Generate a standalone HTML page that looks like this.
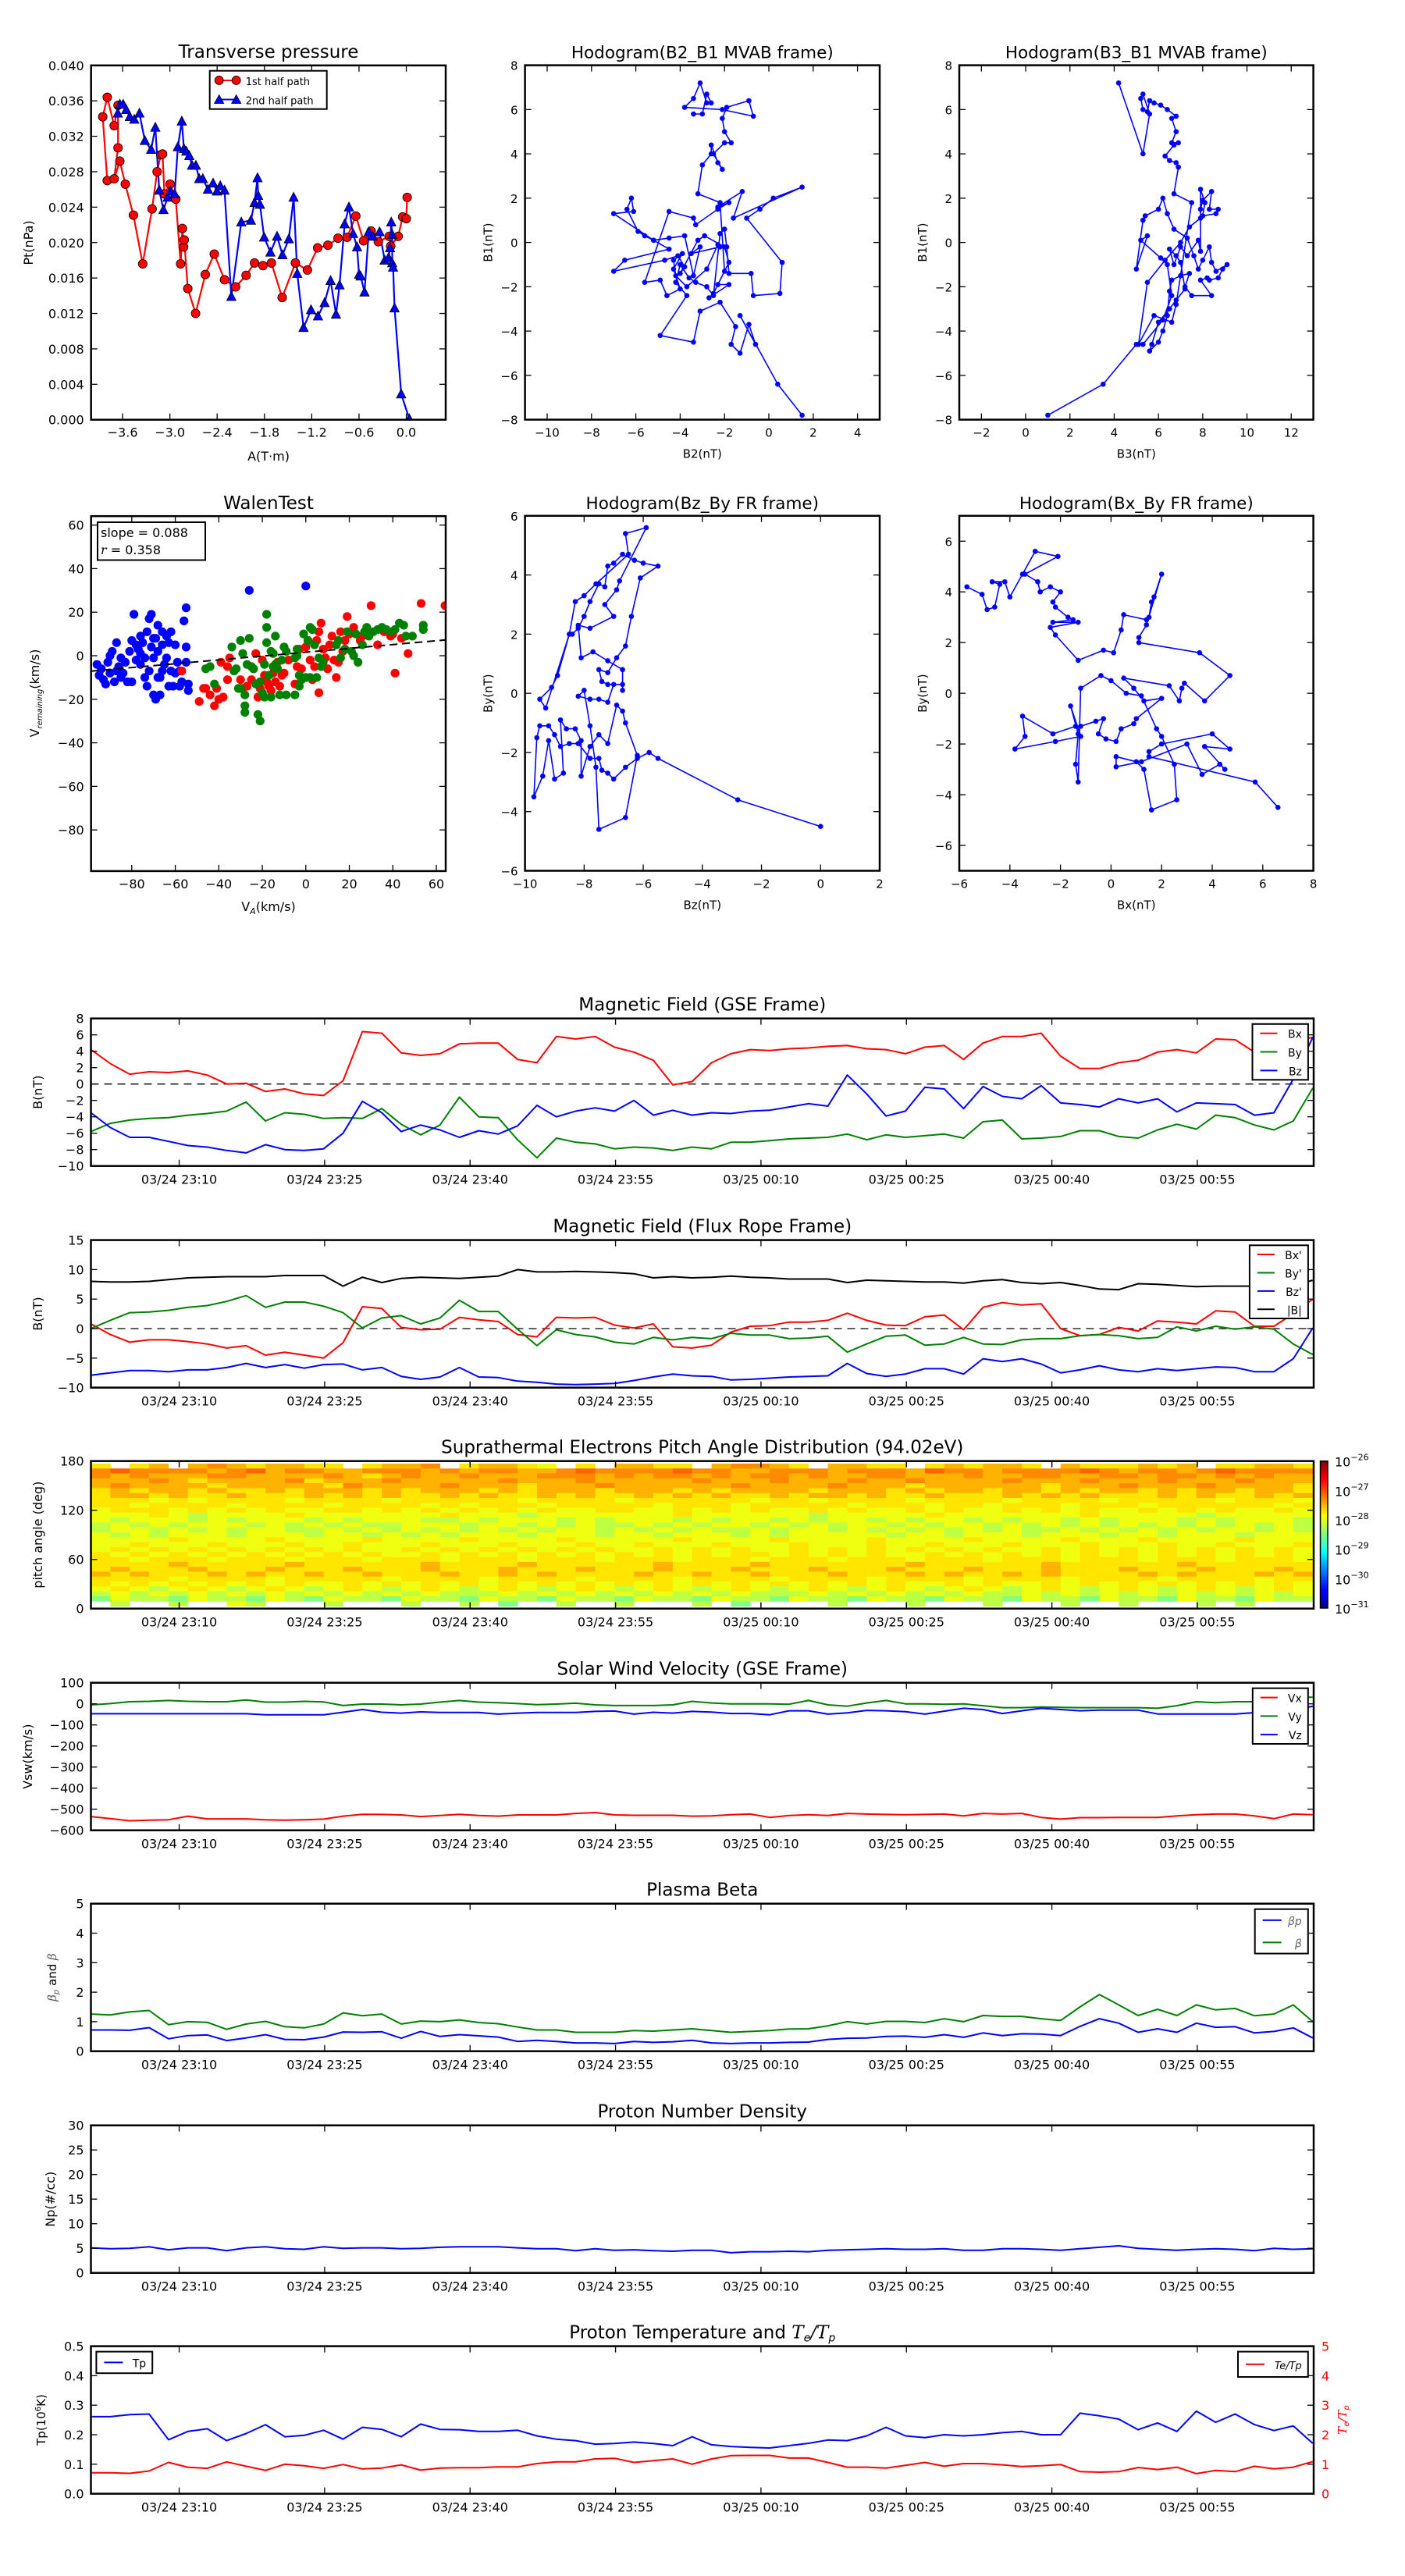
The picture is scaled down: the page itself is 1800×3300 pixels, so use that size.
<!DOCTYPE html>
<html><head><meta charset="utf-8"><title>Flux rope analysis</title>
<style>
html,body{margin:0;padding:0;background:#fff;}
svg{display:block;font-family:"DejaVu Sans","Liberation Sans",sans-serif;}
</style></head>
<body>
<svg id="chart" xmlns="http://www.w3.org/2000/svg" width="1800" height="3300" viewBox="0 0 1800 3300">
<rect x="0" y="0" width="1800" height="3300" fill="#fff"/>
<defs>
<linearGradient id="jetGrad" x1="0" y1="1" x2="0" y2="0">
<stop offset="0" stop-color="#00007f"/><stop offset="0.11" stop-color="#0000ff"/><stop offset="0.125" stop-color="#0000ff"/>
<stop offset="0.34" stop-color="#00d4ff"/><stop offset="0.375" stop-color="#0ff"/><stop offset="0.5" stop-color="#7fff7f"/>
<stop offset="0.625" stop-color="#ff0"/><stop offset="0.66" stop-color="#ffdd00"/><stop offset="0.875" stop-color="#ff0000"/><stop offset="1" stop-color="#7f0000"/>
</linearGradient>
</defs>
</svg>
<script>
// ---------------- DATA ----------------
const tpA1 = [-3.795,-3.852,-3.795,-3.707,-3.658,-3.658,-3.707,-3.635,-3.566,-3.463,-3.345,-3.226,-3.162,-3.116,-3.093,-3.070,-2.998,-2.925,-2.864,-2.841,-2.826,-2.818,-2.773,-2.674,-2.551,-2.437,-2.307,-2.166,-2.033,-1.926,-1.819,-1.712,-1.575,-1.407,-1.255,-1.125,-0.995,-0.866,-0.751,-0.641,-0.542,-0.446,-0.355,-0.217,-0.198,-0.103,-0.046,0.0,0.011];
const tpP1 = [0.0270,0.0342,0.0364,0.0332,0.0355,0.0307,0.0272,0.0292,0.0266,0.0231,0.0176,0.0238,0.0280,0.0299,0.0300,0.0255,0.0266,0.0249,0.0176,0.0216,0.0195,0.0203,0.0148,0.0120,0.0164,0.0187,0.0158,0.0150,0.0163,0.0177,0.0174,0.0177,0.0138,0.0177,0.0169,0.0194,0.0197,0.0205,0.0206,0.0230,0.0202,0.0213,0.0201,0.0207,0.0196,0.0207,0.0229,0.0227,0.0251];
const tpA2 = [-3.661,-3.635,-3.593,-3.554,-3.509,-3.452,-3.387,-3.318,-3.238,-3.185,-3.135,-3.082,-3.028,-2.994,-2.940,-2.899,-2.849,-2.822,-2.792,-2.754,-2.719,-2.670,-2.628,-2.582,-2.517,-2.452,-2.403,-2.361,-2.307,-2.220,-2.094,-1.972,-1.926,-1.888,-1.880,-1.857,-1.804,-1.724,-1.640,-1.571,-1.491,-1.430,-1.384,-1.304,-1.209,-1.121,-1.037,-0.961,-0.892,-0.847,-0.782,-0.728,-0.675,-0.625,-0.599,-0.580,-0.530,-0.477,-0.427,-0.339,-0.275,-0.225,-0.206,-0.191,-0.179,-0.179,-0.168,-0.149,-0.065,0.038];
const tpP2 = [0.0346,0.0356,0.0356,0.0350,0.0342,0.0339,0.0346,0.0315,0.0305,0.0330,0.0259,0.0237,0.0251,0.0258,0.0255,0.0308,0.0337,0.0306,0.0303,0.0298,0.0287,0.0287,0.0272,0.0272,0.0260,0.0267,0.0258,0.0264,0.0259,0.0139,0.0223,0.0225,0.0245,0.0273,0.0253,0.0243,0.0206,0.0189,0.0207,0.0186,0.0204,0.0251,0.0165,0.0104,0.0124,0.0117,0.0132,0.0157,0.0119,0.0152,0.0221,0.0240,0.0210,0.0195,0.0164,0.0162,0.0144,0.0212,0.0207,0.0212,0.0180,0.0183,0.0194,0.0223,0.0209,0.0177,0.0172,0.0126,0.0029,0.0001];
const tpXTicks = [-3.6,-3.0,-2.4,-1.8,-1.2,-0.6,0.0];
const tpYTicks = [0.000,0.004,0.008,0.012,0.016,0.020,0.024,0.028,0.032,0.036,0.040];

const h1B2 = [1.5,0.4,-1.3,-0.6,-0.9,-1.3,-1.7,-1.5,-2.2,-3.1,-3.4,-4.9,-3.7,-4.2,-4.0,-3.6,-3.3,-2.8,-2.5,-2.2,-2.0,-1.9,-1.8,-0.8,-0.7,0.5,0.6,-1.0,-0.4,0.2,1.5,-1.6,-1.2,-2.3,-1.8,-2.3,-3.3,-3.4,-4.5,-5.6,-4.9,-4.6,-4.0,-4.3,-3.9,-4.3,-4.2,-3.7,-2.8,-2.3,-2.2,-3.5,-3.1,-3.4,-3.8,-4.5,-5.2,-5.6,-5.9,-6.4,-6.2,-6.1,-7.0,-5.2,-4.5,-6.5,-7.0,-4.7,-4.1,-3.8,-4.0,-3.2,-2.9,-2.0,-1.8,-2.3,-1.8,-2.7,-2.5,-2.0,-2.2,-3.2,-3.0,-2.6,-2.6,-2.3,-2.1,-2.5,-2.0,-1.7,-2.0,-2.1,-1.9,-0.9,-0.7,-2.1,-3.8,-3.4,-3.1,-2.8,-2.6,-2.8,-3.0,-3.4];
const h1B1 = [-7.8,-6.4,-3.3,-4.6,-3.7,-5.0,-4.6,-3.8,-2.7,-3.1,-4.5,-4.2,-2.4,-1.8,-1.0,-1.6,-1.8,-2.0,-2.4,0.4,0.6,-0.2,-1.4,-1.4,-2.4,-2.3,-0.9,1.1,1.5,2.0,2.5,1.1,2.3,1.6,1.8,1.5,0.8,1.1,1.4,-1.8,-1.7,-2.4,-2.1,-1.2,-0.5,-0.8,-1.5,-2.0,-1.2,-0.1,-0.2,-0.5,-0.2,-1.5,0.3,0.2,0.1,0.3,0.5,1.5,2.0,1.4,1.3,0.1,-0.3,-0.8,-1.3,-0.8,-0.6,-1.1,-1.4,0.1,0.3,-0.2,-0.9,-1.9,-1.9,-2.5,-2.3,-1.3,1.8,2.2,3.5,4.0,4.4,3.6,3.3,4.0,4.5,4.5,5.0,5.6,6.1,6.4,5.7,6.0,6.1,6.5,7.2,6.3,6.3,6.7,5.8,5.8];
const h2B3 = [1.0,3.5,5.0,5.3,6.2,6.6,6.4,6.1,5.2,5.5,5.0,5.3,5.4,6.0,6.2,6.4,6.7,7.3,7.6,7.8,8.0,8.3,8.4,8.6,9.1,8.9,8.7,8.3,8.2,7.9,8.4,7.5,7.2,7.4,7.0,6.6,6.5,6.4,6.2,6.0,5.6,5.7,6.0,6.5,6.8,7.2,7.0,6.8,6.5,6.7,7.0,7.3,7.8,7.9,7.9,8.0,8.4,8.3,8.7,8.6,8.0,8.1,7.9,7.9,7.4,7.0,6.3,5.5,5.1,5.8,6.6,6.8,7.5,6.7,6.9,6.8,6.5,6.3,6.7,6.9,6.6,6.8,6.6,6.8,6.4,6.1,5.8,5.6,5.5,5.3,5.2,5.3,5.6,5.3,4.2];
const h2B1 = [-7.8,-6.4,-4.6,-4.6,-3.5,-2.4,-1.0,-0.7,0.1,0.3,-1.2,1.0,1.2,1.5,2.0,1.3,0.6,0.2,-0.6,-1.2,-0.8,-0.2,-0.9,-1.3,-1.0,-1.2,-1.6,-1.7,-1.6,-1.7,-2.4,-2.4,-2.0,-1.4,-1.5,-1.7,-2.2,-3.3,-4.0,-4.5,-4.9,-4.6,-3.6,-3.0,-2.6,-2.1,-0.9,-0.6,-0.3,-1.0,-0.2,-0.6,0.1,-0.4,1.5,1.9,2.3,1.5,1.5,1.3,1.2,1.8,2.4,1.1,0.7,0.0,-0.8,-1.8,-4.6,-3.3,-3.6,-2.8,1.8,2.2,3.4,3.6,3.7,3.9,4.4,4.5,4.5,5.0,5.6,5.7,6.0,6.2,6.3,6.4,5.9,6.0,6.5,6.7,5.8,4.0,7.2];
const h3Bz = [0.0,-2.8,-5.5,-5.8,-6.2,-6.6,-7.0,-7.2,-7.4,-7.5,-7.8,-8.2,-8.5,-8.8,-9.0,-9.2,-9.5,-9.6,-9.7,-9.4,-9.2,-9.0,-8.7,-8.8,-8.6,-8.3,-8.1,-8.1,-7.8,-7.5,-7.2,-6.9,-6.7,-6.6,-6.2,-6.6,-7.5,-7.6,-7.8,-8.0,-8.2,-7.8,-7.5,-7.2,-7.0,-6.7,-7.2,-7.4,-7.5,-7.2,-6.9,-6.6,-6.4,-6.1,-5.5,-6.0,-6.3,-6.7,-7.0,-7.2,-7.3,-7.5,-7.8,-8.0,-8.2,-8.4,-8.5,-8.9,-9.1,-9.5,-9.3,-8.5,-8.3,-8.0,-7.6,-6.5,-6.6,-5.9,-6.8,-6.9,-7.3,-7.0,-7.8,-8.2,-8.1,-7.7,-7.2,-6.7,-6.7];
const h3By = [-4.5,-3.6,-2.2,-2.0,-2.2,-2.5,-2.9,-2.7,-2.6,-2.2,-2.2,-1.7,-1.7,-1.8,-1.4,-1.1,-1.1,-1.5,-3.5,-2.8,-1.6,-2.9,-2.7,-0.9,-1.2,-1.2,-1.6,-2.8,-1.8,-1.4,-1.7,-0.4,-0.6,-1.0,-2.1,-4.2,-4.6,-2.5,-1.1,0.1,-0.1,-0.2,-0.2,-0.3,0.3,0.3,0.3,0.4,0.8,0.7,1.2,1.6,2.6,3.9,4.3,4.4,4.5,4.7,4.4,4.3,3.6,3.7,3.1,2.6,2.2,2.0,2.0,0.6,0.2,-0.2,-0.5,2.0,3.1,3.3,3.7,4.7,5.4,5.6,3.8,3.5,3.0,2.6,2.2,2.3,1.2,1.4,1.1,0.8,0.1];
const h4Bx = [-5.7,-5.1,-4.9,-4.6,-4.4,-4.7,-4.2,-4.0,-3.5,-3.0,-2.1,-3.4,-2.9,-2.8,-2.4,-2.0,-2.3,-2.2,-1.7,-1.5,-2.3,-1.3,-2.4,-2.2,-1.3,-0.3,0.1,0.4,0.5,1.4,1.5,1.6,1.7,2.0,1.4,1.1,1.1,3.5,4.7,3.7,2.9,2.8,2.7,2.3,0.5,0.9,1.3,2.0,1.0,0.9,0.4,0.2,-0.2,-0.5,-0.3,-0.6,-1.2,-1.4,-2.3,-3.5,-3.4,-3.8,-2.2,-1.2,-1.6,-1.3,-1.4,-1.3,-1.2,-0.4,0.0,0.6,1.2,1.8,2.0,2.5,2.6,1.6,1.3,1.0,0.2,0.2,1.2,3.0,3.6,4.3,4.5,3.7,4.7,4.0,2.0,1.5,1.5,5.7,6.6];
const h4By = [4.2,3.9,3.3,3.4,4.3,4.4,4.4,3.8,4.7,5.6,5.4,4.7,4.4,4.0,4.2,4.0,3.6,3.4,3.0,2.9,2.8,2.8,2.6,2.3,1.3,1.7,1.6,2.5,3.1,2.9,3.0,3.6,3.8,4.7,2.7,2.2,2.0,1.6,0.7,-0.3,0.4,0.2,-0.3,0.3,0.6,0.2,-0.3,-0.2,-1.0,-1.2,-1.4,-1.9,-1.8,-1.6,-1.0,-1.1,-1.3,-1.3,-1.6,-0.9,-1.7,-2.2,-1.9,-1.7,-0.5,-1.6,-2.8,-3.5,0.2,0.7,0.5,0.0,-0.1,-1.4,-1.7,-2.8,-4.2,-4.6,-3.0,-2.7,-2.5,-2.9,-2.7,-2.0,-3.2,-2.8,-3.0,-2.1,-2.2,-1.6,-2.0,-2.3,-2.5,-3.5,-4.5];

const walBlueX = [-96,-95,-94,-93,-92,-91,-90,-89,-88,-87,-86,-85,-84,-83,-82,-81,-80,-80,-79,-78,-78,-77,-76,-76,-75,-74,-74,-73,-73,-72,-72,-71,-71,-70,-70,-69,-69,-68,-68,-67,-67,-66,-66,-65,-64,-64,-63,-62,-62,-61,-60,-60,-59,-58,-57,-56,-55,-55,-55,-54,-54,-87,-90,-85,-76,-70,-66,-68,-63,-58,-26,0];
const walBlueY = [-4,-9,-6,-11,-13,-3,-8,2,-12,-7,-5,-10,-8,-3,-12,2,-12,7,19,5,-2,3,9,-4,6,-1,-10,11,-14,17,-7,4,19,-1,-18,8,-20,14,2,-10,-18,11,5,-4,9,-1,6,-7,11,-14,5,-8,-3,-14,-12,16,22,4,-3,-13,-16,6,0,-1,1,8,-7,-10,-14,-7,30,32];
const walRedX = [-57,-49,-47,-46,-44,-42,-41,-40,-39,-38,-36,-35,-36,-30,-29,-25,-22,-21,-20,-19,-18,-17,-16,-15,-14,-13,-12,-11,-10,-8,-5,-4,-3,-2,0,1,2,3,4,5,6,6,7,8,9,10,11,12,13,14,15,16,18,19,20,22,25,28,30,33,36,39,41,44,47,53,64,40,26,-27,-23,17];
const walRedY = [-7,-21,-15,-15,-18,-23,-15,-20,-3,-19,-5,-1,-11,-11,-15,-11,-19,-15,-2,-9,-12,-14,-16,-8,-12,-3,-14,-9,-8,-2,-13,-5,3,-6,4,7,-2,-11,-5,7,-17,11,15,3,-1,-6,5,9,-2,-10,-3,11,7,18,10,13,7,12,23,5,11,9,-8,8,1,24,23,10,9,-14,1,2];
const walGreenX = [-46,-44,-42,-34,-33,-32,-31,-30,-30,-29,-28,-28,-28,-27,-26,-25,-24,-23,-22,-21,-21,-20,-19,-19,-18,-18,-18,-17,-16,-16,-15,-14,-14,-13,-12,-11,-10,-9,-5,-4,-4,-3,-3,-2,-1,0,1,2,2,3,4,5,6,7,8,14,15,16,18,19,21,22,23,24,26,27,28,29,31,33,35,37,39,41,43,45,46,49,54,54,-9,-5,-15];
const walGreenY = [-6,-5,-13,4,-7,-6,-15,-15,7,1,-18,-23,-26,-4,8,-5,-6,-13,-27,-30,-12,-17,-4,-19,6,19,13,-9,-19,2,-5,-4,9,-6,-18,-2,4,-18,-18,3,0,-9,-14,-11,10,-10,7,13,-10,12,5,-10,-1,-5,-3,5,7,-1,3,11,2,0,10,-3,5,11,13,9,11,12,13,12,11,12,15,14,9,9,14,12,2,-1,1];
const walenSlope = 0.088;
const walenIntercept = 1.6;
const walTicks = [-80,-60,-40,-20,0,20,40,60];

const T = [0,2,4,6,8,10,12,14,16,18,20,22,24,26,28,30,32,34,36,38,40,42,44,46,48,50,52,54,56,58,60,62,64,66,68,70,72,74,76,78,80,82,84,86,88,90,92,94,96,98,100,102,104,106,108,110,112,114,116,118,120,122,124,126];
const timeTickT = [9.1,24.1,39.1,54.1,69.1,84.1,99.1,114.1];
const timeTickLabels = ["03/24 23:10","03/24 23:25","03/24 23:40","03/24 23:55","03/25 00:10","03/25 00:25","03/25 00:40","03/25 00:55"];

const bxGse = [4.2,2.5,1.2,1.5,1.4,1.6,1.1,0.0,0.1,-0.9,-0.6,-1.2,-1.4,0.4,6.4,6.2,3.8,3.5,3.7,4.9,5.0,5.0,3.0,2.6,5.8,5.5,5.8,4.5,3.9,2.9,-0.1,0.3,2.6,3.7,4.2,4.1,4.3,4.4,4.6,4.7,4.3,4.2,3.7,4.5,4.7,3.0,5.0,5.8,5.8,6.2,3.4,1.9,1.9,2.6,2.9,3.9,4.2,3.8,5.5,5.4,3.9,5.0,5.2,5.7];
const byGse = [-5.8,-4.8,-4.4,-4.2,-4.1,-3.8,-3.6,-3.3,-2.2,-4.5,-3.5,-3.7,-4.2,-4.1,-4.2,-3.0,-4.9,-6.2,-5.0,-1.6,-4.0,-4.1,-6.8,-9.0,-6.6,-7.1,-7.3,-7.9,-7.7,-7.8,-8.1,-7.7,-7.9,-7.1,-7.1,-6.9,-6.7,-6.6,-6.5,-6.1,-6.8,-6.2,-6.5,-6.3,-6.1,-6.6,-4.6,-4.4,-6.7,-6.6,-6.4,-5.7,-5.7,-6.4,-6.6,-5.6,-4.9,-5.5,-3.8,-4.1,-5.0,-5.6,-4.5,-0.5];
const bzGse = [-3.5,-5.3,-6.5,-6.5,-7.0,-7.5,-7.7,-8.1,-8.4,-7.4,-8.0,-8.1,-7.9,-6.0,-2.1,-3.5,-5.8,-5.0,-5.6,-6.5,-5.7,-6.1,-5.1,-2.6,-4.0,-3.3,-2.9,-3.3,-2.0,-3.8,-3.2,-3.8,-3.5,-3.6,-3.3,-3.2,-2.8,-2.4,-2.7,1.1,-1.2,-3.9,-3.3,-0.4,-0.6,-3.0,-0.3,-1.5,-1.8,-0.2,-2.3,-2.5,-2.8,-1.8,-2.3,-1.8,-3.4,-2.3,-2.4,-2.5,-3.8,-3.5,0.6,5.7];
const bxFr = [0.8,-1.0,-2.3,-1.9,-1.9,-2.2,-2.6,-3.3,-2.9,-4.5,-4.0,-4.5,-5.0,-2.4,3.7,3.4,0.2,-0.2,-0.1,1.9,1.5,1.2,-1.0,-1.4,1.9,1.8,1.9,0.6,0.1,0.8,-3.1,-3.3,-2.8,-0.6,0.4,0.5,1.1,1.1,1.4,2.6,1.4,0.6,0.5,2.0,2.3,-0.2,3.6,4.4,4.0,4.2,0.0,-1.2,-1.0,0.2,-0.4,1.3,1.1,0.8,3.0,2.8,0.4,0.4,2.5,5.0];
const byFr = [0,1.4,2.7,2.8,3.1,3.6,3.9,4.6,5.6,3.6,4.5,4.5,3.8,2.7,0.1,1.8,2.2,0.8,1.8,4.8,2.9,2.9,-0.1,-2.9,-0.2,-1.0,-1.4,-2.3,-2.6,-1.5,-1.9,-1.5,-1.7,-0.8,-1.1,-1.1,-1.7,-1.6,-1.3,-4.0,-2.6,-1.3,-1.1,-2.8,-2.6,-1.5,-2.6,-2.7,-1.9,-1.7,-1.7,-1.2,-1.0,-1.2,-1.7,-1.5,0.3,-0.4,0.4,-0.1,0.3,-0.1,-2.6,-4.4];
const bzFr = [-7.9,-7.5,-7.1,-7.1,-7.3,-7.0,-7.0,-6.6,-5.9,-6.6,-6.1,-6.7,-6.1,-6.0,-7.0,-6.6,-8.1,-8.6,-8.2,-6.6,-8.2,-8.3,-8.9,-9.1,-9.4,-9.5,-9.4,-9.3,-8.8,-8.2,-7.7,-8.0,-8.1,-8.7,-8.6,-8.4,-8.2,-8.1,-8.0,-5.9,-7.6,-8.1,-7.7,-6.8,-6.8,-7.7,-5.1,-5.6,-5.1,-6.0,-7.5,-7.0,-6.3,-7.0,-7.3,-6.8,-7.1,-6.8,-6.5,-6.6,-7.3,-7.3,-5.1,0.1];
const bMag = [8.0,7.9,7.9,8.0,8.3,8.6,8.7,8.8,8.8,8.8,9.0,9.0,9.0,7.2,8.7,7.8,8.5,8.7,8.6,8.5,8.7,8.9,10.0,9.6,9.6,9.7,9.6,9.5,9.3,8.6,8.8,8.6,8.7,8.9,8.7,8.6,8.4,8.4,8.4,7.8,8.2,8.1,8.0,7.9,7.9,7.7,8.1,8.3,7.8,7.6,7.8,7.3,6.7,6.6,7.6,7.5,7.3,7.1,7.2,7.2,7.2,7.2,7.2,8.2];
const vx = [-535,-545,-555,-552,-550,-533,-546,-546,-546,-550,-552,-550,-547,-533,-524,-525,-527,-535,-530,-524,-530,-533,-527,-527,-527,-520,-516,-527,-529,-529,-529,-533,-532,-526,-523,-539,-530,-526,-530,-520,-523,-525,-526,-525,-523,-532,-520,-523,-520,-539,-547,-540,-540,-539,-539,-539,-532,-526,-523,-523,-532,-545,-523,-526];
const vy = [-5,1,10,12,16,12,10,10,18,8,8,12,9,-8,-1,-1,-5,-1,8,16,8,5,1,-4,-1,3,-5,-8,-8,-8,-5,12,4,0,0,0,-2,16,-5,-11,4,16,0,0,-2,0,-9,-18,-18,-15,-17,-18,-18,-18,-18,-21,-9,10,5,10,10,4,31,31];
const vz = [-47,-47,-47,-47,-47,-47,-47,-47,-47,-52,-52,-52,-52,-40,-27,-40,-44,-38,-41,-41,-41,-49,-44,-41,-41,-41,-36,-34,-49,-40,-44,-36,-39,-46,-46,-52,-33,-33,-49,-43,-31,-33,-37,-49,-35,-21,-27,-46,-33,-21,-27,-33,-30,-30,-30,-48,-48,-48,-48,-48,-42,-37,-27,-12];
const betaTot = [1.26,1.23,1.33,1.38,0.90,1.00,0.98,0.74,0.92,1.01,0.83,0.79,0.92,1.30,1.20,1.26,0.92,1.02,1.00,1.06,0.97,0.93,0.82,0.72,0.72,0.64,0.64,0.64,0.70,0.68,0.72,0.76,0.70,0.64,0.67,0.70,0.75,0.76,0.86,1.00,0.92,1.01,1.01,0.97,1.10,1.00,1.21,1.18,1.18,1.10,1.04,1.50,1.92,1.57,1.21,1.42,1.21,1.57,1.40,1.45,1.20,1.26,1.57,1.00];
const betaP = [0.72,0.72,0.71,0.80,0.42,0.53,0.55,0.36,0.45,0.56,0.40,0.39,0.48,0.65,0.64,0.66,0.44,0.67,0.50,0.56,0.52,0.48,0.33,0.37,0.33,0.28,0.28,0.26,0.33,0.30,0.32,0.37,0.28,0.26,0.28,0.28,0.30,0.31,0.40,0.44,0.45,0.50,0.51,0.47,0.56,0.47,0.62,0.53,0.59,0.58,0.53,0.84,1.10,0.95,0.64,0.76,0.64,0.95,0.81,0.83,0.62,0.67,0.79,0.45];
const np = [5.1,4.9,5.0,5.3,4.7,5.1,5.1,4.5,5.1,5.3,4.9,4.8,5.3,5.0,5.1,5.1,4.9,5.0,5.2,5.3,5.3,5.3,5.1,4.9,4.9,4.5,4.9,4.6,4.7,4.5,4.4,4.6,4.6,4.1,4.3,4.3,4.4,4.3,4.6,4.7,4.8,4.9,4.8,4.8,4.9,4.6,4.6,4.9,4.9,4.8,4.6,4.9,5.2,5.5,5.0,4.8,4.6,4.8,4.9,4.8,4.5,5.0,4.8,4.9];
const tp = [0.261,0.261,0.268,0.27,0.183,0.211,0.22,0.18,0.204,0.234,0.193,0.198,0.215,0.185,0.225,0.218,0.193,0.236,0.218,0.217,0.211,0.211,0.215,0.196,0.185,0.18,0.168,0.17,0.175,0.17,0.163,0.193,0.166,0.16,0.157,0.155,0.163,0.171,0.182,0.18,0.196,0.225,0.196,0.19,0.2,0.196,0.2,0.207,0.211,0.2,0.2,0.273,0.264,0.253,0.217,0.24,0.211,0.28,0.242,0.27,0.234,0.214,0.23,0.171];
const teTp = [0.71,0.71,0.69,0.77,1.06,0.90,0.86,1.08,0.93,0.79,1.00,0.95,0.86,0.99,0.84,0.87,0.98,0.80,0.87,0.88,0.88,0.91,0.91,1.02,1.08,1.08,1.18,1.20,1.06,1.12,1.18,1.00,1.18,1.29,1.30,1.30,1.21,1.21,1.06,0.90,0.90,0.87,0.96,1.06,0.93,1.02,1.02,0.98,0.92,0.95,0.99,0.75,0.73,0.75,0.89,0.82,0.90,0.68,0.79,0.75,0.93,0.84,0.90,1.09];

// pitch-angle distribution: rows top (174 deg) to bottom (6 deg); 63 two-minute columns; '.' = no data
const pitchCenters = [174,168,162,156,150,144,138,132,126,120,114,108,102,96,90,84,78,72,66,60,54,48,42,36,30,24,18,12,6];
const padLevels = [-28.5,-28.2,-27.95,-27.75,-27.5,-27.3,-27.1];
const padRows = [
"3.34.4543 4433.3445 .34432.3. 4433.4554 3.4433.34 3443.4333 434.33443",
"565555456 455445554 545544565 555655445 554555465 545555654 554565555",
"545444554 444543454 454445554 545545455 454455444 544554455 455454544",
"444543444 453444544 444544454 444454445 444544544 445444544 454445444",
"454444344 444354444 544434445 444444544 445444344 444434445 444544443",
"343443433 434443434 443434443 444343444 434443434 434434344 343443443",
"344343343 334343433 434334343 343434334 344343343 334343433 343433434",
"333232333 323333233 333323333 233333323 323333233 332333323 333323332",
"332333323 333233332 323332333 332333233 333233323 323332333 233333323",
"233323232 322332323 232323223 322323232 232322323 223232322 323232232",
"222321222 232222222 322212222 222322222 212222232 222222322 222122222",
"212221212 221212221 121222121 222121221 212212122 121221212 221212221",
"121212221 212121122 212212121 121212212 121221212 212121212 121212121",
"122121212 211212121 212121221 212121121 221212121 212112121 212122121",
"212122212 221221212 122212221 221222121 222221221 222122212 212221222",
"222232222 322223222 232222322 222322223 222232222 322223222 322223222",
"223222322 232232223 222322232 232223222 322232232 223222322 232232223",
"232323232 323232232 323232323 223232322 323232323 232232323 232323232",
"323232323 232323223 232323232 323232332 323232232 323232323 232323232",
"332333233 323332333 233323332 333233323 332333233 323332333 233323332",
"333343333 343333334 333343333 334333343 333333433 333343333 334333333",
"343334333 433343334 333433343 334333433 343334333 433343334 333433343",
"434333434 334334333 433434333 343343343 334333434 334343333 434333434",
"333323333 233333233 332333323 333233332 333323333 233332333 323333233",
"323232323 232232323 232323232 323232323 232323223 232232323 232323232",
"232123212 321232123 212321232 123212321 232123212 321232123 212321232",
"121212121 212121212 111212121 212121211 121212121 211212121 212121212",
"021102110 210211021 102110211 021102110 211021102 110211021 102110211",
".1..1..21 ...1...1. .1.0..1.. 1...1.0.. ..1...1.. .1...1..1 ...1.1..."
];

// ---------------- HELPERS ----------------
const NS = 'http://www.w3.org/2000/svg';
const svg = document.getElementById('chart');
function mk(tag, attrs, parent) {
  const e = document.createElementNS(NS, tag);
  for (const k in attrs) e.setAttribute(k, attrs[k]);
  (parent || svg).appendChild(e);
  return e;
}
function lin(d0, d1, r0, r1) { return v => r0 + (v - d0) * (r1 - r0) / (d1 - d0); }
function fmtNum(v, dec) { const s = Math.abs(v).toFixed(dec); return (v < 0 ? '\u2212' : '') + s; }
let clipCount = 0;
function makeAxes(name, x0, y0, x1, y1, xmin, xmax, ymin, ymax) {
  const g = mk('g', {});
  
  
  clipCount++;
  const cp = mk('clipPath', { id: 'clip' + clipCount }, g);
  mk('rect', { x: x0, y: y0, width: x1 - x0, height: y1 - y0 }, cp);
  const plot = mk('g', { 'clip-path': 'url(#clip' + clipCount + ')' }, g);
  
  
  return { g, plot, x0, y0, x1, y1, sx: lin(xmin, xmax, x0, x1), sy: lin(ymin, ymax, y1, y0) };
}
function frame(ax) {
  const r = mk('rect', { x: ax.x0, y: ax.y0, width: ax.x1 - ax.x0, height: ax.y1 - ax.y0, fill: 'none', stroke: '#000', 'stroke-width': 2.5 }, ax.g);
  
  
}
function text(parent, str, x, y, size, anchor, extra) {
  const t = mk('text', Object.assign({ x: x, y: y, 'font-size': size, 'text-anchor': anchor || 'middle', fill: '#000' }, extra || {}), parent);
  t.textContent = str;
  return t;
}
function xTicks(ax, vals, labels, size, offset) {
  const g = mk('g', {}, ax.g);
  
  
  vals.forEach((v, i) => {
    const x = ax.sx(v);
    mk('line', { x1: x, x2: x, y1: ax.y1, y2: ax.y1 - 8, stroke: '#000', 'stroke-width': 1.3 }, g);
    mk('line', { x1: x, x2: x, y1: ax.y0, y2: ax.y0 + 8, stroke: '#000', 'stroke-width': 1.3 }, g);
    const t = text(g, labels[i], x, ax.y1 + (offset || 22), size || 16);
    
    
  });
}
function yTicks(ax, vals, labels, size, color, rightLabels) {
  const g = mk('g', {}, ax.g);
  
  
  vals.forEach((v, i) => {
    const y = ax.sy(v);
    if (!rightLabels) {
      mk('line', { x1: ax.x0, x2: ax.x0 + 8, y1: y, y2: y, stroke: '#000', 'stroke-width': 1.3 }, g);
      mk('line', { x1: ax.x1, x2: ax.x1 - 8, y1: y, y2: y, stroke: '#000', 'stroke-width': 1.3 }, g);
    }
    const t = rightLabels
      ? text(g, labels[i], ax.x1 + 10, y + 6, size || 16, 'start', { fill: color })
      : text(g, labels[i], ax.x0 - 9, y + 6, size || 16, 'end', { fill: color || '#000' });
    
    
  });
}
function polyline(ax, xs, ys, color, width, name) {
  const pts = xs.map((x, i) => ax.sx(x).toFixed(1) + ',' + ax.sy(ys[i]).toFixed(1)).join(' ');
  const p = mk('polyline', { points: pts, fill: 'none', stroke: color, 'stroke-width': width || 2, 'stroke-linejoin': 'round' }, ax.plot);
  
  
  return p;
}
function title(str, x, y, size) {
  const t = text(svg, str, x, y, size || 20);
  
  
  return t;
}
function yLabel(str, x, y, size, color) {
  const t = text(svg, str, x, y, size || 16, 'middle', { transform: 'rotate(-90 ' + x + ' ' + y + ')', fill: color || '#000' });
  
  
  return t;
}
function xLabel(str, x, y, size) {
  const t = text(svg, str, x, y, size || 16);
  
  
  return t;
}
function legendBox(x, y, w, h, items, lineLen, fontSize) {
  const g = mk('g', {});
  
  
  mk('rect', { x: x, y: y, width: w, height: h, fill: '#fff', stroke: '#000', 'stroke-width': 2 }, g);
  const step = h / items.length;
  items.forEach((it, i) => {
    const cy = y + step * (i + 0.5);
    const eg = mk('g', {}, g);
    
    
    mk('line', { x1: x + 10, x2: x + 10 + lineLen, y1: cy, y2: cy, stroke: it.color, 'stroke-width': 2 }, eg);
    if (it.marker === 'circle') {
      mk('circle', { cx: x + 12, cy: cy, r: 5.5, fill: '#f00', stroke: '#000', 'stroke-width': 0.8 }, eg);
      mk('circle', { cx: x + 8 + lineLen, cy: cy, r: 5.5, fill: '#f00', stroke: '#000', 'stroke-width': 0.8 }, eg);
    } else if (it.marker === 'tri') {
      [x + 12, x + 8 + lineLen].forEach(cx => mk('polygon', { points: (cx - 6) + ',' + (cy + 5) + ' ' + (cx + 6) + ',' + (cy + 5) + ' ' + cx + ',' + (cy - 6), fill: '#00f', stroke: '#000', 'stroke-width': 0.8 }, eg));
    }
    text(eg, it.label, it.labelX !== undefined ? x + it.labelX : x + w - 8, cy + 6, fontSize || 16, it.labelX !== undefined ? 'start' : 'end', it.style || {});
  });
  return g;
}
function jet(x) {
  const c = v => Math.max(0, Math.min(1, v));
  const r = c(1.5 - Math.abs(4 * x - 3)), g = c(1.5 - Math.abs(4 * x - 2)), b = c(1.5 - Math.abs(4 * x - 1));
  return 'rgb(' + Math.round(r * 255) + ',' + Math.round(g * 255) + ',' + Math.round(b * 255) + ')';
}

// ---------------- TOP ROW: Transverse pressure ----------------
(function () {
  const ax = makeAxes('transverse-pressure-chart', 116.7, 83.8, 571, 537.7, -4, 0.5, 0, 0.04);
  polyline(ax, tpA1, tpP1, '#f00', 2.2, 'first-half-path-line');
  polyline(ax, tpA2, tpP2, '#00f', 2.2, 'second-half-path-line');
  tpA1.forEach((a, i) => {
    const c = mk('circle', { cx: ax.sx(a), cy: ax.sy(tpP1[i]), r: 5.6, fill: '#f00', stroke: '#000', 'stroke-width': 0.8 }, ax.plot);
    
    
  });
  tpA2.forEach((a, i) => {
    const cx = ax.sx(a), cy = ax.sy(tpP2[i]);
    const p = mk('polygon', { points: (cx - 6) + ',' + (cy + 5) + ' ' + (cx + 6) + ',' + (cy + 5) + ' ' + cx + ',' + (cy - 6.5), fill: '#00f', stroke: '#000', 'stroke-width': 0.8 }, ax.plot);
    
    
  });
  xTicks(ax, tpXTicks, tpXTicks.map(v => fmtNum(v, 1)), 16, 22);
  yTicks(ax, tpYTicks, tpYTicks.map(v => v.toFixed(3)), 16);
  frame(ax);
  title('Transverse pressure', 344, 74, 23);
  yLabel('Pt(nPa)', 42, 311, 16);
  xLabel('A(T\u00b7m)', 344, 590, 16);
  legendBox(268.7, 90.7, 150, 49, [
    { color: '#f00', marker: 'circle', label: '1st half path', labelX: 46 },
    { color: '#00f', marker: 'tri', label: '2nd half path', labelX: 46 }
  ], 26, 13);
})();

function hodogram(name, x0, y0, x1, y1, xmin, xmax, ymin, ymax, xs, ys, xt, yt, ttl, xl, yl) {
  const ax = makeAxes(name, x0, y0, x1, y1, xmin, xmax, ymin, ymax);
  polyline(ax, xs, ys, '#00f', 1.6, 'hodogram-path');
  xs.forEach((x, i) => {
    const c = mk('circle', { cx: ax.sx(x), cy: ax.sy(ys[i]), r: 3.3, fill: '#00f' }, ax.plot);
    
    
  });
  xTicks(ax, xt, xt.map(v => fmtNum(v, 0)), 15, 22);
  yTicks(ax, yt, yt.map(v => fmtNum(v, 0)), 15);
  frame(ax);
  title(ttl, (x0 + x1) / 2, y0 - 9, 21.5);
  xLabel(xl, (x0 + x1) / 2, y1 + 49, 15);
  yLabel(yl, x0 - 42, (y0 + y1) / 2, 15);
}
hodogram('hodogram-b2-b1', 672.6, 83.6, 1127, 537.6, -11, 5, -8, 8, h1B2, h1B1, [-10, -8, -6, -4, -2, 0, 2, 4], [-8, -6, -4, -2, 0, 2, 4, 6, 8], 'Hodogram(B2_B1 MVAB frame)', 'B2(nT)', 'B1(nT)');
hodogram('hodogram-b3-b1', 1229, 83.6, 1682.6, 537.6, -3, 13, -8, 8, h2B3, h2B1, [-2, 0, 2, 4, 6, 8, 10, 12], [-8, -6, -4, -2, 0, 2, 4, 6, 8], 'Hodogram(B3_B1 MVAB frame)', 'B3(nT)', 'B1(nT)');
hodogram('hodogram-bz-by', 672.6, 660.8, 1127, 1115.5, -10, 2, -6, 6, h3Bz, h3By, [-10, -8, -6, -4, -2, 0, 2], [-6, -4, -2, 0, 2, 4, 6], 'Hodogram(Bz_By FR frame)', 'Bz(nT)', 'By(nT)');
hodogram('hodogram-bx-by', 1229, 660.8, 1682.6, 1115.5, -6, 8, -7, 7, h4Bx, h4By, [-6, -4, -2, 0, 2, 4, 6, 8], [-6, -4, -2, 0, 2, 4, 6], 'Hodogram(Bx_By FR frame)', 'Bx(nT)', 'By(nT)');

// ---------------- Walen test ----------------
(function () {
  const ax = makeAxes('walen-test-chart', 116.7, 661.2, 571, 1115.9, -98.7, 64.3, -98.9, 64.1);
  [[walBlueX, walBlueY, '#00f', 'walen-blue-point'], [walRedX, walRedY, '#f00', 'walen-red-point'], [walGreenX, walGreenY, '#008000', 'walen-green-point']].forEach(s => {
    s[0].forEach((x, i) => {
      const c = mk('circle', { cx: ax.sx(x), cy: ax.sy(s[1][i]), r: 5.6, fill: s[2] }, ax.plot);
      
      
    });
  });
  const fit = mk('line', { x1: ax.sx(-98.7), y1: ax.sy(walenSlope * -98.7 + walenIntercept), x2: ax.sx(64.3), y2: ax.sy(walenSlope * 64.3 + walenIntercept), stroke: '#000', 'stroke-width': 2, 'stroke-dasharray': '10,6' }, ax.plot);
  
  
  xTicks(ax, walTicks, walTicks.map(v => fmtNum(v, 0)), 16, 22);
  yTicks(ax, walTicks, walTicks.map(v => fmtNum(v, 0)), 16);
  frame(ax);
  const box = mk('g', {});
  
  
  mk('rect', { x: 125, y: 669, width: 138, height: 48.5, fill: '#fff', stroke: '#000', 'stroke-width': 2 }, box);
  text(box, 'slope = 0.088', 129, 688, 16, 'start');
  const r = text(box, '', 129, 710, 16, 'start');
  const ri = mk('tspan', { 'font-style': 'italic', 'font-family': 'DejaVu Serif, serif' }, r); ri.textContent = 'r';
  const rv = mk('tspan', {}, r); rv.textContent = ' = 0.358';
  title('WalenTest', 344, 652, 23);
  const xl = xLabel('', 344, 1167, 16);
  const a1 = mk('tspan', {}, xl); a1.textContent = 'V';
  const a2 = mk('tspan', { 'font-size': 11, 'font-style': 'italic', dy: 4 }, xl); a2.textContent = 'A';
  const a3 = mk('tspan', { dy: -4 }, xl); a3.textContent = '(km/s)';
  const yl = yLabel('', 50, 888, 16);
  const b1 = mk('tspan', {}, yl); b1.textContent = 'V';
  const b2 = mk('tspan', { 'font-size': 10, 'font-style': 'italic', dy: 4 }, yl); b2.textContent = 'remaining';
  const b3 = mk('tspan', { dy: -4 }, yl); b3.textContent = '(km/s)';
})();

// ---------------- TIME SERIES PANELS ----------------
const TX0 = 116.5, TX1 = 1683, TH = 189, TMAX = 126.1;
function timePanel(name, top, ymin, ymax, yvals, ylabels, ttl, ylab) {
  const ax = makeAxes(name, TX0, top, TX1, top + TH, 0, TMAX, ymin, ymax);
  ax.ttl = title(ttl, (TX0 + TX1) / 2, top - 10, 23);
  xTicks(ax, timeTickT, timeTickLabels, 16, 23);
  yTicks(ax, yvals, ylabels, 16);
  if (ylab) yLabel(ylab, 54, top + TH / 2, 16);
  return ax;
}
function zeroLine(ax) {
  const l = mk('line', { x1: ax.x0, x2: ax.x1, y1: ax.sy(0), y2: ax.sy(0), stroke: '#000', 'stroke-width': 1.3, 'stroke-dasharray': '10,7' }, ax.plot);
  
  
}

// Panel 1: Magnetic field GSE
(function () {
  const yv = [-10, -8, -6, -4, -2, 0, 2, 4, 6, 8];
  const ax = timePanel('magnetic-field-gse-chart', 1304.7, -10, 8, yv, yv.map(v => fmtNum(v, 0)), 'Magnetic Field (GSE Frame)', 'B(nT)');
  zeroLine(ax);
  polyline(ax, T, bxGse, '#f00', 2, 'bx-line');
  polyline(ax, T, byGse, '#008000', 2, 'by-line');
  polyline(ax, T, bzGse, '#00f', 2, 'bz-line');
  frame(ax);
  legendBox(1604.5, 1311.8, 71.4, 71.5, [{ color: '#f00', label: 'Bx' }, { color: '#008000', label: 'By' }, { color: '#00f', label: 'Bz' }], 22, 14);
})();

// Panel 2: Magnetic field flux rope frame
(function () {
  const yv = [-10, -5, 0, 5, 10, 15];
  const ax = timePanel('magnetic-field-fr-chart', 1588.6, -10, 15, yv, yv.map(v => fmtNum(v, 0)), 'Magnetic Field (Flux Rope Frame)', 'B(nT)');
  zeroLine(ax);
  polyline(ax, T, bMag, '#000', 2, 'b-magnitude-line');
  polyline(ax, T, bxFr, '#f00', 2, 'bx-prime-line');
  polyline(ax, T, byFr, '#008000', 2, 'by-prime-line');
  polyline(ax, T, bzFr, '#00f', 2, 'bz-prime-line');
  frame(ax);
  legendBox(1600.9, 1595.3, 75, 93.7, [{ color: '#f00', label: "Bx'" }, { color: '#008000', label: "By'" }, { color: '#00f', label: "Bz'" }, { color: '#000', label: '|B|' }], 22, 14);
})();

// Panel 3: Pitch angle distribution
(function () {
  const yv = [0, 60, 120, 180];
  const ax = timePanel('pitch-angle-distribution-chart', 1871.7, 0, 180, yv, yv.map(v => String(v)), 'Suprathermal Electrons Pitch Angle Distribution (94.02eV)', 'pitch angle (deg)');
  padRows.forEach((rowStr, r) => {
    const row = rowStr.replace(/ /g, '');
    for (let c = 0; c < T.length - 1; c++) {
      const ch = row.charAt(c);
      if (ch === '' || ch === '.') continue;
      const v = padLevels[parseInt(ch, 10)];
      const x = ax.sx(T[c]), w = ax.sx(T[c + 1]) - x;
      const yTop = ax.sy(pitchCenters[r] + 3), h = ax.sy(pitchCenters[r] - 3) - yTop;
      const cell = mk('rect', { x: x.toFixed(1), y: yTop.toFixed(1), width: (w + 0.4).toFixed(1), height: (h + 0.4).toFixed(1), fill: jet((v + 31) / 5) }, ax.plot);
      
      
    }
  });
  frame(ax);
  const tg = mk('g', {}, ax.g);
  timeTickT.forEach(t => {
    const x = ax.sx(t);
    mk('line', { x1: x, x2: x, y1: ax.y1, y2: ax.y1 - 8, stroke: '#000', 'stroke-width': 1.3 }, tg);
    mk('line', { x1: x, x2: x, y1: ax.y0, y2: ax.y0 + 8, stroke: '#000', 'stroke-width': 1.3 }, tg);
  });
  const cb = mk('g', {});
  
  
  mk('rect', { x: 1691.5, y: 1871.7, width: 9.5, height: 188.3, fill: 'url(#jetGrad)', stroke: '#000', 'stroke-width': 1.5 }, cb);
  const cbExp = [-26, -27, -28, -29, -30, -31];
  const cbY = lin(-31, -26, 2060, 1871.7);
  cbExp.forEach(e => {
    const t = text(cb, '10', 1710, cbY(e) + 7, 16, 'start');
    const s = mk('tspan', { 'font-size': 11, dy: -8 }, t); s.textContent = '\u2212' + Math.abs(e);
    
    
  });
})();

// Panel 4: Solar wind velocity
(function () {
  const yv = [-600, -500, -400, -300, -200, -100, 0, 100];
  const ax = timePanel('solar-wind-velocity-chart', 2155.7, -600, 100, yv, yv.map(v => fmtNum(v, 0)), 'Solar Wind Velocity (GSE Frame)', null);
  yLabel('Vsw(km/s)', 41, 2155.7 + TH / 2, 16);
  polyline(ax, T, vx, '#f00', 2, 'vx-line');
  polyline(ax, T, vy, '#008000', 2, 'vy-line');
  polyline(ax, T, vz, '#00f', 2, 'vz-line');
  frame(ax);
  legendBox(1604.8, 2162.7, 71, 71.3, [{ color: '#f00', label: 'Vx' }, { color: '#008000', label: 'Vy' }, { color: '#00f', label: 'Vz' }], 22, 14);
})();

// Panel 5: Plasma beta
(function () {
  const yv = [0, 1, 2, 3, 4, 5];
  const ax = timePanel('plasma-beta-chart', 2438.7, 0, 5, yv, yv.map(v => String(v)), 'Plasma Beta', null);
  const yl = yLabel('', 72, 2533, 15, '#555');
  const b1 = mk('tspan', { 'font-style': 'italic', 'font-family': 'DejaVu Serif, serif' }, yl); b1.textContent = '\u03b2';
  const b2 = mk('tspan', { 'font-size': 10, 'font-style': 'italic', dy: 3 }, yl); b2.textContent = 'p';
  const b3 = mk('tspan', { dy: -3, fill: '#000' }, yl); b3.textContent = ' and ';
  const b4 = mk('tspan', { 'font-style': 'italic', 'font-family': 'DejaVu Serif, serif' }, yl); b4.textContent = '\u03b2';
  polyline(ax, T, betaTot, '#008000', 2, 'beta-line');
  polyline(ax, T, betaP, '#00f', 2, 'beta-p-line');
  frame(ax);
  legendBox(1607.7, 2445.7, 68.1, 56.9, [
    { color: '#00f', label: '\u03b2p', style: { 'font-style': 'italic', fill: '#666' } },
    { color: '#008000', label: '\u03b2', style: { 'font-style': 'italic', fill: '#666' } }
  ], 24, 14);
})();

// Panel 6: Proton number density
(function () {
  const yv = [0, 5, 10, 15, 20, 25, 30];
  const ax = timePanel('proton-density-chart', 2722.7, 0, 30, yv, yv.map(v => String(v)), 'Proton Number Density', null);
  yLabel('Np(#/cc)', 70, 2722.7 + TH / 2, 16);
  polyline(ax, T, np, '#00f', 2, 'np-line');
  frame(ax);
})();

// Panel 7: Proton temperature and Te/Tp
(function () {
  const yv = [0, 0.1, 0.2, 0.3, 0.4, 0.5];
  const ax = timePanel('proton-temperature-chart', 3005.6, 0, 0.5, yv, yv.map(v => v.toFixed(1)), '', null);
  ax.ttl.textContent = 'Proton Temperature and ';
  const m1 = mk('tspan', { 'font-style': 'italic', 'font-family': 'DejaVu Serif, serif' }, ax.ttl); m1.textContent = 'T';
  const m2 = mk('tspan', { 'font-size': 14, 'font-style': 'italic', dy: 4 }, ax.ttl); m2.textContent = 'e';
  const m3 = mk('tspan', { dy: -4, 'font-style': 'italic', 'font-family': 'DejaVu Serif, serif' }, ax.ttl); m3.textContent = '/T';
  const m4 = mk('tspan', { 'font-size': 14, 'font-style': 'italic', dy: 4 }, ax.ttl); m4.textContent = 'p';
  const yl = yLabel('', 58, 3100, 15);
  const t1 = mk('tspan', {}, yl); t1.textContent = 'Tp(10';
  const t2 = mk('tspan', { 'font-size': 10, dy: -6 }, yl); t2.textContent = '6';
  const t3 = mk('tspan', { dy: 6 }, yl); t3.textContent = 'K)';
  const axR = { g: ax.g, x0: ax.x0, x1: ax.x1, y0: ax.y0, y1: ax.y1, sy: lin(0, 5, ax.y1, ax.y0) };
  const rv = [0, 1, 2, 3, 4, 5];
  yTicks(axR, rv, rv.map(v => String(v)), 16, '#f00', true);
  const ry = yLabel('', 1725, 3100, 15, '#f00');
  const r1 = mk('tspan', { 'font-style': 'italic', 'font-family': 'DejaVu Serif, serif' }, ry); r1.textContent = 'T';
  const r2 = mk('tspan', { 'font-size': 10, 'font-style': 'italic', dy: 3 }, ry); r2.textContent = 'e';
  const r3 = mk('tspan', { dy: -3, 'font-style': 'italic', 'font-family': 'DejaVu Serif, serif' }, ry); r3.textContent = '/T';
  const r4 = mk('tspan', { 'font-size': 10, 'font-style': 'italic', dy: 3 }, ry); r4.textContent = 'p';
  polyline(ax, T, tp, '#00f', 2, 'tp-line');
  const axTe = { plot: ax.plot, sx: ax.sx, sy: axR.sy };
  polyline(axTe, T, teTp, '#f00', 2, 'te-tp-ratio-line');
  frame(ax);
  legendBox(123.4, 3012.6, 71.8, 27.6, [{ color: '#00f', label: 'Tp' }], 24, 14);
  legendBox(1586, 3012.6, 89.8, 32.4, [{ color: '#f00', label: 'Te/Tp', style: { 'font-style': 'italic', 'font-size': 13 } }], 24, 14);
})();
</script>
</body></html>
